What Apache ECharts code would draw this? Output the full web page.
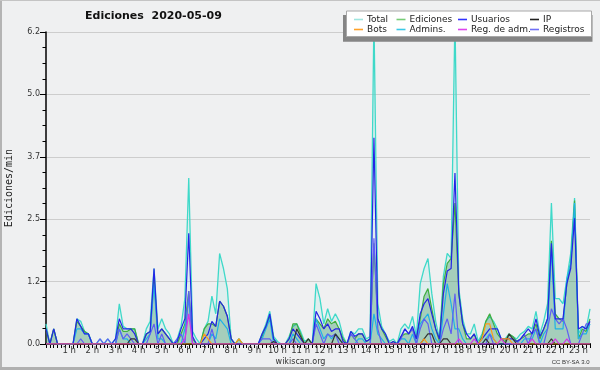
<!DOCTYPE html>
<html><head><meta charset="utf-8">
<script src="https://cdn.jsdelivr.net/npm/echarts@6/dist/echarts.min.js"></script>
<style>html,body{margin:0;padding:0;background:#eff0f1;}#c{width:600px;height:370px;}</style>
</head><body><div id="c"></div>
<script>
// 10-minute samples, 00:00 .. 23:30 (142 points), values in edits/min
const stepMin = 10;
const total = [
 0.4,0,0.3,0,0,0,
 0,0,0.5,0.45,0.25,0.2,
 0,0,0.1,0,0.1,0,
 0.1,0.8,0.35,0.3,0.3,0.3,
 0,0,0.3,0.45,1.5,0.3,
 0.5,0.3,0.2,0,0.1,0.35,
 0.9,3.3,0.25,0.1,0,0.3,
 0.45,0.95,0.6,1.8,1.5,1.1,
 0.1,0,0.1,0,0,0,
 0,0,0.2,0.4,0.65,0.15,
 0.05,0,0,0.15,0.35,0.4,
 0.25,0.05,0.1,0,1.2,0.9,
 0.4,0.7,0.45,0.6,0.45,0.15,
 0,0.25,0.2,0.3,0.3,0.1,
 0.15,6.5,0.8,0.35,0.2,0.05,
 0.1,0,0.3,0.4,0.3,0.55,
 0.15,1.2,1.5,1.7,1.0,0.45,
 0.1,1.35,1.8,1.7,6.5,1.1,
 0.5,0.2,0.2,0.4,0.05,0.2,
 0.45,0.55,0.45,0.3,0.1,0.1,
 0.2,0.15,0.1,0.2,0.25,0.35,
 0.3,0.65,0.2,0.45,0.8,2.8,
 0.9,0.9,0.8,1.3,1.8,2.9,
 0.2,0.35,0.3,0.7];
const ediciones = [
 0.3,0,0.3,0,0,0,
 0,0,0.45,0.35,0.25,0.2,
 0,0,0,0,0,0,
 0,0.4,0.25,0.25,0.3,0.3,
 0,0,0.2,0.25,1.3,0.2,
 0.3,0.2,0.1,0,0,0.2,
 0.4,1.05,0.1,0,0,0.3,
 0.4,0.4,0.35,0.85,0.75,0.55,
 0.1,0,0.1,0,0,0,
 0,0,0.15,0.35,0.55,0.1,
 0,0,0,0.1,0.4,0.4,
 0.2,0,0.1,0,0.5,0.4,
 0.3,0.5,0.4,0.45,0.3,0.1,
 0,0.2,0.1,0.2,0.2,0.05,
 0.1,2.0,0.5,0.3,0.15,0,
 0.05,0,0.15,0.2,0.2,0.3,
 0.1,0.5,0.95,1.1,0.7,0.3,
 0.05,1.2,1.6,1.7,2.8,1.0,
 0.4,0.1,0.1,0.2,0,0.15,
 0.45,0.6,0.4,0.2,0.1,0.05,
 0.2,0.15,0.05,0.1,0.15,0.2,
 0.2,0.4,0.1,0.3,0.5,2.05,
 0.6,0.5,0.45,1.2,1.6,2.85,
 0.1,0.3,0.25,0.5];
const usuarios = [
 0.3,0,0.3,0,0,0,
 0,0,0.5,0.35,0.2,0.2,
 0,0,0,0,0,0,
 0.1,0.5,0.3,0.3,0.3,0.2,
 0,0,0.2,0.25,1.5,0.2,
 0.3,0.2,0.1,0,0.05,0.3,
 0.5,2.2,0.15,0,0,0.1,
 0.2,0.45,0.35,0.85,0.75,0.55,
 0.1,0,0,0,0,0,
 0,0,0.2,0.35,0.6,0.1,
 0,0,0,0.1,0.3,0.2,
 0.1,0,0,0,0.65,0.5,
 0.3,0.4,0.25,0.3,0.3,0.05,
 0,0.25,0.15,0.2,0.2,0.05,
 0.1,4.1,0.5,0.3,0.2,0,
 0.05,0,0.15,0.3,0.2,0.35,
 0.1,0.6,0.8,0.9,0.6,0.3,
 0.1,1.0,1.45,1.5,3.4,1.0,
 0.4,0.2,0.1,0.2,0,0.1,
 0.2,0.3,0.3,0.3,0.1,0.1,
 0.1,0.1,0.05,0.1,0.2,0.3,
 0.2,0.5,0.15,0.3,0.5,2.0,
 0.5,0.5,0.5,1.2,1.5,2.5,
 0.3,0.35,0.3,0.45];
const ip = [
 0,0,0,0,0,0, 0,0,0,0,0,0, 0,0,0,0,0,0,
 0,0,0,0,0.1,0.1,
 0,0,0,0,0,0, 0,0,0,0,0,0, 0,0,0,0,0,0, 0,0,0,0,0,0, 0,0,0,0,0,0,
 0,0,0,0,0,0.05,
 0,0,0,0,0,0.3,
 0.15,0,0.1,0,0,0,
 0,0,0,0.2,0.1,0,
 0,0,0,0,0,0, 0,0,0,0,0,0, 0,0,0,0,0,0,
 0,0,0.1,0.2,0.2,0,
 0,0.1,0.1,0,0,0,
 0,0,0,0,0,0,
 0.1,0,0,0,0,0,
 0.2,0.1,0,0,0,0,
 0,0,0,0,0,0.1,
 0,0,0,0,0,0,
 0,0,0,0];
const bots = [
 0,0,0,0,0,0, 0,0,0,0,0,0, 0,0,0,0,0,0, 0,0,0,0,0,0, 0,0,0,0,0,0, 0,0,0,0,0,0,
 0,0,0,0,0,0.2,
 0.1,0,0,0,0,0,
 0,0,0.1,0,0,0,
 0,0,0,0,0,0, 0,0,0,0,0,0, 0,0,0,0,0,0, 0,0,0,0,0,0, 0,0,0,0,0,0, 0,0,0,0,0,0, 0,0,0,0,0,0,
 0,0,0.1,0,0,0,
 0,0,0,0,0,0,
 0,0,0,0,0,0.1,
 0.4,0.4,0.1,0,0.1,0.1,
 0.1,0,0,0,0,0,
 0,0,0,0,0,0, 0,0,0,0,0,0,
 0,0,0,0];
const admins = [
 0,0,0,0,0,0,
 0,0,0.3,0.3,0.2,0.2,
 0,0,0,0,0,0,
 0,0.3,0.1,0.1,0,0,
 0,0,0.1,0.2,1.2,0.1,
 0.1,0,0,0,0,0,
 0.3,0.9,0,0,0,0,
 0,0.2,0.1,0.5,0.4,0.3,
 0,0,0,0,0,0,
 0,0,0.1,0.3,0.5,0,
 0,0,0,0,0.2,0.1,
 0,0,0,0,0.5,0.3,
 0.1,0.2,0.1,0.2,0.1,0,
 0,0,0,0.1,0.1,0,
 0,0.6,0.2,0.1,0,0,
 0,0,0.1,0.1,0,0.2,
 0,0.4,0.5,0.6,0.3,0.1,
 0,0.6,1.2,0.8,0.3,0.3,
 0.1,0,0,0,0,0,
 0.1,0.2,0.1,0,0,0,
 0,0,0,0,0.1,0.1,
 0.1,0.3,0,0.2,0.3,1.9,
 0.3,0.3,0.3,1.3,1.6,2.8,
 0.1,0.2,0.2,0.4];
const regAdm = [
 0,0,0,0,0,0, 0,0,0,0,0,0, 0,0,0,0,0,0, 0,0,0,0,0,0, 0,0,0,0,0,0, 0,0,0,0,0,0,
 0.1,0.6,0,0,0,0,
 0,0,0,0,0,0, 0,0,0,0,0,0, 0,0,0,0,0,0, 0,0,0,0,0,0, 0,0,0,0,0,0,
 0,0,0,0,0,0, 0,0,0,0,0,0, 0,0,0,0,0,0, 0,0,0,0,0,0, 0,0,0,0,0,0,
 0,0,0,0,0,0.1,
 0,0,0,0.1,0,0,
 0,0,0,0,0.1,0,
 0,0,0,0,0,0,
 0.1,0,0,0,0,0,
 0.1,0,0,0.1,0,0,
 0,0,0,0];
const registros = [
 0,0,0,0,0,0,
 0,0,0,0.1,0,0,
 0,0,0.1,0,0.1,0,
 0,0.3,0.1,0.2,0.1,0,
 0,0,0,0.2,0.4,0,
 0.2,0,0,0,0.1,0.2,
 0,1.05,0,0,0,0,
 0,0.3,0,0,0,0,
 0,0,0,0,0,0,
 0,0,0.1,0.1,0.1,0,
 0,0,0,0,0.1,0,
 0,0,0,0,0.4,0.2,
 0,0.2,0.15,0.2,0,0,
 0,0.2,0.1,0,0,0,
 0,2.1,0.3,0,0,0,
 0,0,0.1,0.3,0.2,0.3,
 0,0.3,0.5,0.4,0,0,
 0,0.3,0.5,0.2,1.0,0,
 0,0,0,0,0,0,
 0,0.2,0,0,0,0,
 0,0,0,0.1,0.2,0,
 0.2,0.3,0,0,0.3,0.7,
 0.5,0.4,0.5,0.3,0,0,
 0,0.2,0.4,0.4];

function pairs(arr){ return arr.map((v,i)=>[i*stepMin, v]); }

const FONT = 'DejaVu Sans';
const chart = echarts.init(document.getElementById('c'), null, {renderer:'canvas'});

function lineSeries(name, data, color, extra){
  return Object.assign({
    name, type:'line', data:pairs(data), showSymbol:false, symbol:'none',
    lineStyle:{color, width:1.2}, itemStyle:{color}, animation:false, z:3
  }, extra||{});
}

const legendCommon = {orient:'vertical', itemWidth:9, itemHeight:1.6, itemGap:1, padding:0, icon:'rect',
  textStyle:{fontFamily:FONT, fontSize:9, color:'#222', padding:[0,0,0,-1]}, z:30, selectedMode:false};

chart.setOption({
  backgroundColor:'#eff0f1',
  animation:false,
  textStyle:{fontFamily:FONT},
  title:{text:'Ediciones  2020-05-09', left:85, top:11, padding:0,
    textStyle:{fontFamily:FONT, fontSize:11, fontWeight:'bold', color:'#111'}},
  grid:{left:46, right:10, top:32, bottom:26, containLabel:false, outerBoundsMode:'none'},
  xAxis:{type:'value', min:0, max:1410, interval:60,
    axisLine:{lineStyle:{color:'#000', width:2}},
    axisTick:{length:4, lineStyle:{color:'#000', width:1}},
    minorTick:{show:true, splitNumber:6, length:4, lineStyle:{color:'#000', width:1}},
    splitLine:{show:false},
    axisLabel:{fontFamily:FONT, fontSize:8.5, color:'#333', margin:2, showMinLabel:false, showMaxLabel:false,
      formatter:v=> (v===0?'':(v/60)+' h')}},
  yAxis:{type:'value', min:0, max:6.2, interval:1.24,
    name:'Ediciones/min', nameLocation:'middle', nameGap:31.5,
    nameTextStyle:{fontFamily:'DejaVu Sans Mono', fontSize:10, color:'#222'},
    axisLine:{show:true, lineStyle:{color:'#000', width:1.5}},
    axisTick:{show:true, length:6, lineStyle:{color:'#000'}},
    minorTick:{show:true, splitNumber:4, length:3.5, lineStyle:{color:'#000'}},
    splitLine:{show:true, lineStyle:{color:'#cdcdcd', width:1}},
    axisLabel:{fontFamily:FONT, fontSize:8, color:'#333', margin:6, formatter:v=>v.toFixed(1)}},
  legend:[
    Object.assign({left:354, top:15, data:[{name:'Total', itemStyle:{color:'#9fe6e0'}},{name:'Bots', itemStyle:{color:'#ffa22a'}}]}, legendCommon),
    Object.assign({left:396.5, top:15, data:[{name:'Ediciones', itemStyle:{color:'#77cc77'}},{name:'Admins.', itemStyle:{color:'#3cc8e6'}}]}, legendCommon),
    Object.assign({left:458, top:15, data:[{name:'Usuarios', itemStyle:{color:'#3333ff'}},{name:'Reg. de adm.', itemStyle:{color:'#dd44ee'}}]}, legendCommon),
    Object.assign({left:530, top:15, data:[{name:'IP', itemStyle:{color:'#222222'}},{name:'Registros', itemStyle:{color:'#6f6ff5'}}]}, legendCommon)
  ],
  graphic:[
    {type:'rect', z:10, shape:{x:343, y:15, width:249.5, height:26.7}, style:{fill:'#858585'}},
    {type:'rect', z:11, shape:{x:346.5, y:11, width:245, height:25.5}, style:{fill:'#ffffff', stroke:'#a8a8a8', lineWidth:1}},
    {type:'rect', z:12, shape:{x:0, y:0, width:2, height:370}, style:{fill:'#b4b4b4'}},
    {type:'rect', z:12, shape:{x:0, y:0, width:600, height:1}, style:{fill:'#c4c4c4'}},
    {type:'rect', z:12, shape:{x:0, y:367, width:600, height:3}, style:{fill:'#b0b0b0'}},
    {type:'text', z:12, style:{text:'wikiscan.org', x:300.5, y:362, textAlign:'center', textVerticalAlign:'middle',
      font:'8px "DejaVu Sans"', fill:'#333'}},
    {type:'text', z:12, style:{text:'CC BY-SA 3.0', x:589.5, y:362.5, textAlign:'right', textVerticalAlign:'middle',
      font:'6px "Liberation Sans"', fill:'#333'}}
  ],
  series:[
    lineSeries('Total', total, '#3fd9c9', {z:1, lineStyle:{color:'#3fd9c9', width:1.3}, areaStyle:{color:'rgba(64,224,208,0.13)'}}),
    lineSeries('Ediciones', ediciones, '#3fae3f', {z:2, areaStyle:{color:'rgba(40,140,80,0.45)'}}),
    lineSeries('Admins.', admins, '#1fb2e6'),
    lineSeries('Registros', registros, '#5f5ff2'),
    lineSeries('Usuarios', usuarios, '#2424e6'),
    lineSeries('IP', ip, '#333333'),
    lineSeries('Bots', bots, '#ff9a1a'),
    lineSeries('Reg. de adm.', regAdm, '#d633e6')
  ]
});
</script></body></html>
